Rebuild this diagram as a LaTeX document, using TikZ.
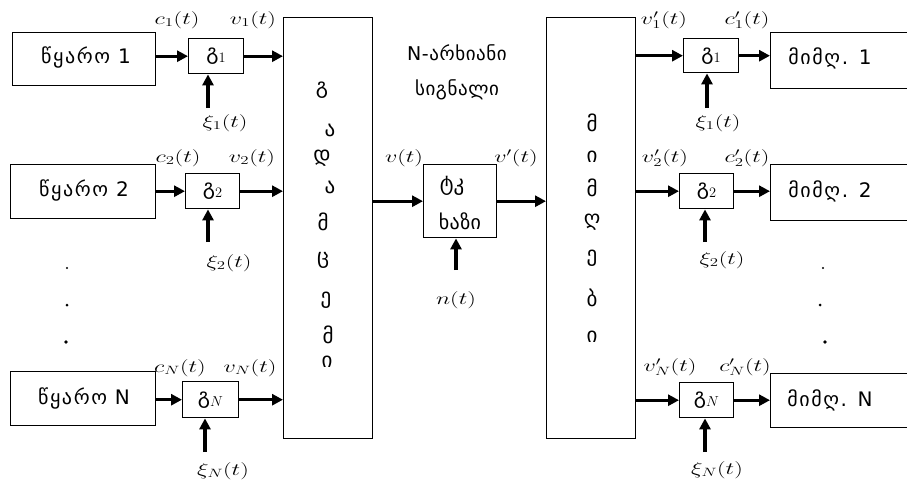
\documentclass[tikz,border=0pt]{standalone}
\usepackage{fontspec}
\usepackage{graphicx}
\usetikzlibrary{arrows.meta}
\newfontfamily\geo[LetterSpace=8]{DejaVu Sans}
\newfontfamily\geoplain{DejaVu Sans}
\newcommand\wideLbl[1]{\scalebox{1.4}[1]{#1}}
\tikzset{
  blk/.style={draw, line width=1.4pt, inner sep=0pt, anchor=north west},
  geotxt/.style={font=\geo\fontsize{20}{22}\selectfont, inner sep=0pt},
  vlet/.style={font=\geoplain\fontsize{21}{22}\selectfont, inner sep=0pt},
  lbl/.style={font=\fontsize{17}{20}\selectfont, inner sep=0pt},
  arr/.style={line width=3.4pt, -{Triangle[length=11pt,width=11pt]}},
}
\begin{document}
\begin{tikzpicture}[x=1pt,y=-1pt]
\useasboundingbox (0,0) rectangle (907,485);
% sources
\node[blk, minimum width=143pt, minimum height=53pt] (s1) at (12,32) {};
\node[blk, minimum width=145pt, minimum height=54pt] (s2) at (10,164) {};
\node[blk, minimum width=145pt, minimum height=54pt] (sN) at (10,371) {};
\node[geotxt] (ts1) at (86,57) {წყარო 1};
\node[geotxt] (ts2) at (84,190) {წყარო 2};
\node[geotxt] (tsN) at (84,398) {წყარო N};
% converters left
\node[blk, minimum width=55pt, minimum height=35pt] (m1) at (188,38) {};
\node[blk, minimum width=54pt, minimum height=35pt] (m2) at (185,173) {};
\node[blk, minimum width=56pt, minimum height=36pt] (mN) at (182,381) {};
\node[vlet] (tm1) at (m1.center) {გ$_1$};
\node[vlet] (tm2) at (m2.center) {გ$_2$};
\node[vlet] (tmN) at (mN.center) {გ$_N$};
% big boxes
\node[blk, minimum width=89pt, minimum height=421pt] (L) at (283,17) {};
\node[blk, minimum width=89pt, minimum height=421pt] (R) at (546,17) {};
% channel
\node[blk, minimum width=73pt, minimum height=73pt] (K) at (423,164) {};
\node[vlet] (tk1) at (452,186) {ტკ};
\node[vlet, font=\geoplain\fontsize{20}{22}\selectfont\addfontfeature{LetterSpace=2}] (tk2) at (460,221) {ხაზი};
% receivers' converters
\node[blk, minimum width=55pt, minimum height=34pt] (d1) at (683,38) {};
\node[blk, minimum width=54pt, minimum height=35pt] (d2) at (679,173) {};
\node[blk, minimum width=54pt, minimum height=35pt] (dN) at (679,382) {};
\node[vlet] (td1) at (d1.center) {გ$_1$};
\node[vlet] (td2) at (d2.center) {გ$_2$};
\node[vlet] (tdN) at (dN.center) {გ$_N$};
% receivers
\node[blk, minimum width=140pt, minimum height=56pt] (r1) at (770,32) {};
\node[blk, minimum width=140pt, minimum height=56pt] (r2) at (770,164) {};
\node[blk, minimum width=140pt, minimum height=54pt] (rN) at (770,373) {};
\node[geotxt] (tr1) at (830,58) {მიმღ. 1};
\node[geotxt] (tr2) at (830,191) {მიმღ. 2};
\node[geotxt] (trN) at (830,400) {მიმღ. N};
% vertical words
\foreach \ch/\xx/\yy [count=\i] in {გ/322/90,ა/330/130,დ/322/158,ა/330/187,მ/323/222,ც/323/260,ე/326/300,მ/328/335,ი/327/362}
  \node[vlet] (lv\i) at (\xx,\yy) {\ch};
\foreach \ch/\yy [count=\i] in {მ/123,ი/157,მ/188,ღ/222,ე/258,ბ/298,ი/337}
  \node[vlet] (rv\i) at (592,\yy) {\ch};
% N-channel signal text
\node[vlet, font=\geoplain\fontsize{19}{22}\selectfont\addfontfeature{LetterSpace=3}] (nc1) at (457,53) {N-არხიანი};
\node[vlet, font=\geoplain\fontsize{19}{22}\selectfont\addfontfeature{LetterSpace=3}] (nc2) at (457,90) {სიგნალი};
% arrows left
\draw[arr] (m1.west -| s1.east) -- (m1.west);
\draw[arr] (m2.west -| s2.east) -- (m2.west);
\draw[arr] (mN.west -| sN.east) -- (mN.west);
\draw[arr] (m1.east) -- (m1.east -| L.west);
\draw[arr] (m2.east) -- (m2.east -| L.west);
\draw[arr] (mN.east) -- (mN.east -| L.west);
% carriers
\coordinate (x1) at (208,108);
\coordinate (x2) at (208,242);
\coordinate (xN) at (205,452);
\draw[arr] (x1) -- (x1 |- m1.south);
\draw[arr] (x2) -- (x2 |- m2.south);
\draw[arr] (xN) -- (xN |- mN.south);
\coordinate (y1) at (707,108);
\coordinate (y2) at (705,242);
\coordinate (yN) at (705,452);
\draw[arr] (y1) -- (y1 |- d1.south);
\draw[arr] (y2) -- (y2 |- d2.south);
\draw[arr] (yN) -- (yN |- dN.south);
% channel arrows
\draw[arr] (K.west -| L.east) -- (K.west);
\draw[arr] (K.east) -- (K.east -| R.west);
\coordinate (nn) at (456,270);
\draw[arr] (nn) -- (nn |- K.south);
% right arrows
\draw[arr] (d1.west -| R.east) -- (d1.west);
\draw[arr] (d2.west -| R.east) -- (d2.west);
\draw[arr] (dN.west -| R.east) -- (dN.west);
\draw[arr] (d1.east) -- (d1.east -| r1.west);
\draw[arr] (d2.east) -- (d2.east -| r2.west);
\draw[arr] (dN.east) -- (dN.east -| rN.west);
% labels
\node[lbl] (c1) at (177,20) {\wideLbl{$c_1(t)$}};
\node[lbl] (v1) at (253,20) {\wideLbl{$v_1(t)$}};
\node[lbl] (c2) at (178,158) {\wideLbl{$c_2(t)$}};
\node[lbl] (v2) at (252,158) {\wideLbl{$v_2(t)$}};
\node[lbl] (cN) at (180,368) {\wideLbl{$c_N(t)$}};
\node[lbl] (vN) at (250,368) {\wideLbl{$v_N(t)$}};
\node[lbl] (k1) at (225,123) {\wideLbl{$\xi_1(t)$}};
\node[lbl] (k2) at (229,263) {\wideLbl{$\xi_2(t)$}};
\node[lbl] (kN) at (223,471) {\wideLbl{$\xi_N(t)$}};
\node[lbl] (q1) at (718,123) {\wideLbl{$\xi_1(t)$}};
\node[lbl] (q2) at (722,260) {\wideLbl{$\xi_2(t)$}};
\node[lbl] (qN) at (717,470) {\wideLbl{$\xi_N(t)$}};
\node[lbl] (w1) at (664,20) {\wideLbl{$v_1'(t)$}};
\node[lbl] (e1) at (747,20) {\wideLbl{$c_1'(t)$}};
\node[lbl] (w2) at (665,158) {\wideLbl{$v_2'(t)$}};
\node[lbl] (e2) at (747,158) {\wideLbl{$c_2'(t)$}};
\node[lbl] (wN) at (670,367) {\wideLbl{$v_N'(t)$}};
\node[lbl] (eN) at (745,367) {\wideLbl{$c_N'(t)$}};
\node[lbl] (vv) at (404,158) {\wideLbl{$v(t)$}};
\node[lbl] (vp) at (516,158) {\wideLbl{$v'(t)$}};
\node[lbl] (nt) at (456,300) {\wideLbl{$n(t)$}};
% dots
\foreach \xx/\yy/\rr [count=\i] in {67/268/1.2,67/305/1.5,66/342/1.8}
  \fill (\xx,\yy) circle (\rr);
\foreach \xx/\yy/\rr [count=\i] in {823/268/1.2,820/305/1.5,825/342/1.8}
  \fill (\xx,\yy) circle (\rr);
\end{tikzpicture}
\end{document}
